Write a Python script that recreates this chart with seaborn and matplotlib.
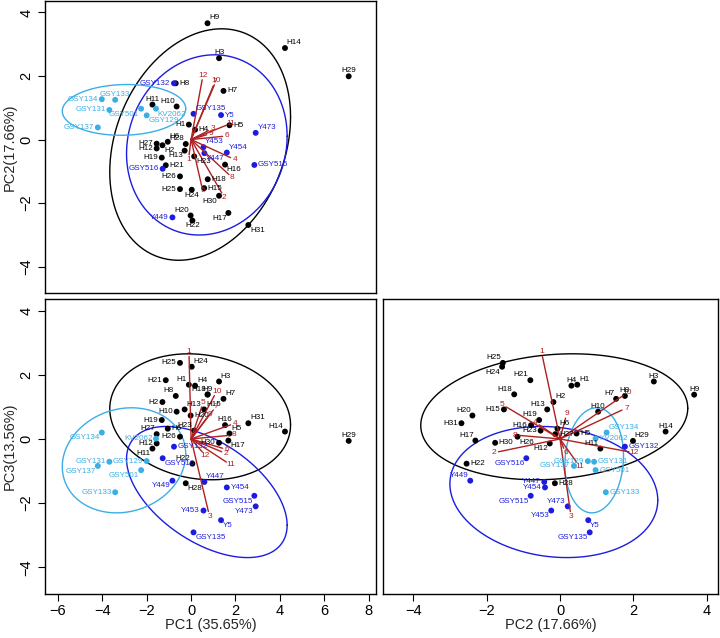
import numpy as np
import pandas as pd
import matplotlib
matplotlib.use("Agg")
import matplotlib.pyplot as plt
import seaborn as sns

# sample scores on the first three principal components
names = ["H1", "H2", "H3", "H4", "H5", "H6", "H7", "H8", "H9", "H10",
         "H11", "H12", "H13", "H14", "H15", "H16", "H17", "H18", "H19", "H20",
         "H21", "H22", "H23", "H24", "H25", "H26", "H27", "H28", "H29", "H30", "H31",
         "GSY132", "GSY135", "Y5", "Y473", "Y453", "Y447", "Y454", "GSY515", "GSY516", "Y449",
         "GSY134", "GSY133", "GSY131", "GSY501", "KV2062", "GSY129", "GSY137"]
group = ["H"] * 31 + ["Y"] * 10 + ["GSY"] * 7
pc1 = [-0.10, -1.29, 1.26, 0.18, 1.73, -1.05, 1.46, -0.69, 0.74, -0.65,
       -1.74, -1.55, -0.29, 4.23, 0.59, 1.53, 1.68, 0.75, -1.32, -0.02,
       -1.14, 0.06, 0.14, 0.03, -0.50, -0.50, -1.55, -0.24, 7.10, 1.26, 2.58,
       -0.77, 0.11, 1.35, 2.91, 0.56, 0.60, 1.61, 2.85, -1.28, -0.84,
       -4.02, -3.42, -3.68, -2.25, -1.58, -2.00, -4.20]
pc2 = [0.47, -0.18, 2.56, 0.31, 0.45, -0.07, 1.53, 1.77, 3.66, 1.04,
       1.10, -0.28, -0.35, 2.88, -1.53, -0.79, -2.31, -1.25, -0.57, -2.39,
       -0.81, -2.55, -0.53, -1.58, -1.56, -1.16, -0.13, -0.14, 1.99, -1.77, -2.69,
       1.77, 0.81, 0.77, 0.21, -0.24, -0.43, -0.41, -0.80, -0.92, -2.45,
       1.27, 1.25, 0.93, 0.97, 0.97, 0.76, 0.38]
pc3 = [1.69, 1.15, 1.79, 1.66, 0.17, 0.32, 1.25, 1.34, 1.38, 0.85,
       -0.30, -0.14, 0.92, 0.23, 0.92, 0.43, -0.05, 1.39, 0.59, 0.73,
       1.83, -0.77, 0.26, 2.25, 2.37, 0.07, 0.15, -1.38, -0.06, -0.12, 0.49,
       -0.24, -2.91, -2.53, -2.10, -2.23, -1.34, -1.51, -1.77, -0.60, -1.30,
       0.20, -1.66, -0.71, -0.97, 0.01, -0.69, -0.84]

# variable loadings (arrows)
load_names = ["1", "2", "3", "4", "5", "6", "7", "8", "9", "10", "11", "12"]
load_pc1 = [-0.09, 1.38, 0.78, 1.78, 0.48, 1.42, 1.00, 1.70, 0.70, 1.05, 1.59, 0.50]
load_pc2 = [-0.48, -1.68, 0.28, -0.57, -1.47, 0.10, 1.69, -1.10, 0.15, 1.72, 0.45, 1.88]
load_pc3 = [2.57, -0.40, -2.26, 0.44, 1.00, -0.29, 0.90, 0.11, 0.65, 1.35, -0.72, -0.40]

df = pd.DataFrame({"name": names, "group": group, "PC1": pc1, "PC2": pc2, "PC3": pc3})
colors = {"H": "black", "Y": "#1c1ce0", "GSY": "#3aaee6"}
red = "#b02020"

# label placement (compass direction from the dot), one string per panel
pos_top = ("H9:ne H14:ne H29:n H3:n H8:e H7:e H11:n H10:nw H1:w H4:e H5:e H6:ne H28:nw "
           "H27:w H2:se H12:w H13:sw H23:se H19:w H21:e H16:se H26:w H18:e H25:w H24:s "
           "H15:e H30:sw H17:sw H20:nw H22:s H31:se GSY132:w GSY135:ne Y5:e Y473:ne "
           "Y453:ne Y447:se Y454:ne GSY515:e GSY516:w Y449:w GSY134:w GSY133:n GSY131:w "
           "GSY501:sw KV2062:se GSY129:se GSY137:w")
pos_13 = ("H25:w H24:ne H21:w H1:nw H4:ne H18:nw H3:ne H9:n H7:ne H8:nw H2:w H13:ne "
          "H10:w H15:ne H20:e H23:nw H19:w H16:n H31:ne H14:nw H29:n H5:ne H17:se H30:w "
          "H27:nw H12:w H11:sw H6:e H26:w H22:nw H28:se GSY132:e GSY516:se Y449:sw "
          "Y447:ne Y454:e GSY515:sw Y473:sw Y453:w Y5:se GSY135:se GSY134:sw GSY131:w "
          "GSY137:sw GSY129:w GSY501:sw GSY133:w KV2062:w")
pos_23 = ("H25:nw H24:sw H21:nw H4:n H1:ne H18:nw H3:n H9:n H7:nw H8:n H2:ne H10:n "
          "H13:nw H20:nw H15:w H31:w H19:nw H16:w H6:ne H14:n H23:w H17:nw H30:e H26:se "
          "H12:sw H29:ne H5:e H11:nw H22:e H28:e H27:e GSY516:sw Y449:nw Y447:w Y454:w "
          "GSY515:sw Y473:nw Y453:sw Y5:se GSY135:sw GSY132:e GSY134:ne KV2062:e GSY129:w "
          "GSY131:e GSY137:w GSY501:e GSY133:e")

D = 2.6
compass = {"e": (D, 0, "left", "center"), "w": (-D, 0, "right", "center"),
           "n": (0, D * 0.5, "center", "bottom"), "s": (0, -D * 0.5, "center", "top"),
           "ne": (D * 0.5, D * 0.5, "left", "bottom"), "nw": (-D * 0.5, D * 0.5, "right", "bottom"),
           "se": (D * 0.5, -D * 0.5, "left", "top"), "sw": (-D * 0.5, -D * 0.5, "right", "top")}


def ellipse(x, y, level=0.90, seg=120):
    # data ellipse: radius sqrt(2 * F(level; 2, n-1)), F quantile in closed form for dfn=2
    center = np.array([np.mean(x), np.mean(y)])
    shape = np.cov(x, y)
    d = len(x) - 1
    fq = d / 2 * ((1 - level) ** (-2 / d) - 1)
    radius = np.sqrt(2 * fq)
    t = np.linspace(0, 2 * np.pi, seg + 1)
    circ = np.column_stack([np.cos(t), np.sin(t)])
    L = np.linalg.cholesky(shape)
    e = center + radius * circ @ L.T
    return e[:, 0], e[:, 1]


sns.set_style("white")
plt.rcParams["font.family"] = ["Liberation Sans", "DejaVu Sans"]
plt.rcParams["axes.unicode_minus"] = True

fig = plt.figure(figsize=(7.2, 6.38), dpi=100)
W, H = 720, 638
ax_top = fig.add_axes([45 / W, 1 - 293 / H, 331 / W, 292 / H])
ax_13 = fig.add_axes([45 / W, 1 - 594 / H, 331 / W, 295 / H])
ax_23 = fig.add_axes([383 / W, 1 - 594 / H, 335 / W, 295 / H])


def panel(ax, xc, yc, lx, ly, pos, xlim, ylim):
    ax.set_xlim(*xlim)
    ax.set_ylim(*ylim)
    for g, c in colors.items():
        sub = df[df.group == g]
        ex, ey = ellipse(sub[xc].values, sub[yc].values)
        ax.plot(ex, ey, color=c, lw=1.0, zorder=1)
    sns.scatterplot(data=df, x=xc, y=yc, hue="group", palette=colors, s=18,
                    edgecolor="none", legend=False, ax=ax, zorder=3)
    # loading arrows
    tr = ax.transData
    for nm, a, b in zip(load_names, lx, ly):
        ax.plot([0, a], [0, b], color=red, lw=1.0, zorder=4)
        p0 = tr.transform((0, 0))
        p1 = tr.transform((a, b))
        v = p1 - p0
        v = v / np.hypot(*v)
        ax.annotate(nm, (a, b), xytext=(v[0] * 3.5, v[1] * 3.5), textcoords="offset points",
                    ha="center", va="center", fontsize=6, color=red, zorder=5)
    pmap = dict(item.split(":") for item in pos.split())
    for _, r in df.iterrows():
        dx, dy, ha, va = compass[pmap.get(r["name"], "e")]
        ax.annotate(r["name"], (r[xc], r[yc]), xytext=(dx, dy), textcoords="offset points",
                    ha=ha, va=va, fontsize=5.8, color=colors[r["group"]], zorder=5)
    for s in ax.spines.values():
        s.set_visible(True)
        s.set_color("black")
        s.set_linewidth(1.0)
    ax.tick_params(direction="out", length=5, width=0.8, labelsize=10.5, colors="black")
    ax.set_xlabel("")
    ax.set_ylabel("")


xl1 = (-6.58, 8.33)
xl2 = (-4.83, 4.31)
yl = (-4.83, 4.36)
panel(ax_top, "PC1", "PC2", load_pc1, load_pc2, pos_top, xl1, yl)
panel(ax_13, "PC1", "PC3", load_pc1, load_pc3, pos_13, xl1, yl)
panel(ax_23, "PC2", "PC3", load_pc2, load_pc3, pos_23, xl2, yl)

yt = [-4, -2, 0, 2, 4]
for ax in (ax_top, ax_13):
    ax.set_yticks(yt)
    ax.tick_params(axis="y", left=True, labelrotation=90)
    for lbl in ax.get_yticklabels():
        lbl.set_va("center")
ax_top.set_xticks([])
ax_23.set_yticks([])
ax_13.set_xticks([-6, -4, -2, 0, 2, 4, 6, 8])
ax_23.set_xticks([-4, -2, 0, 2, 4])
for ax in (ax_13, ax_23):
    ax.tick_params(axis="x", bottom=True, pad=2)

ax_top.set_ylabel("PC2(17.66%)", fontsize=10.5, labelpad=2)
ax_13.set_ylabel("PC3(13.56%)", fontsize=10.5, labelpad=2)
ax_13.set_xlabel("PC1 (35.65%)", fontsize=10.5, labelpad=0)
ax_23.set_xlabel("PC2 (17.66%)", fontsize=10.5, labelpad=0)

fig.savefig("out.png", dpi=100)
